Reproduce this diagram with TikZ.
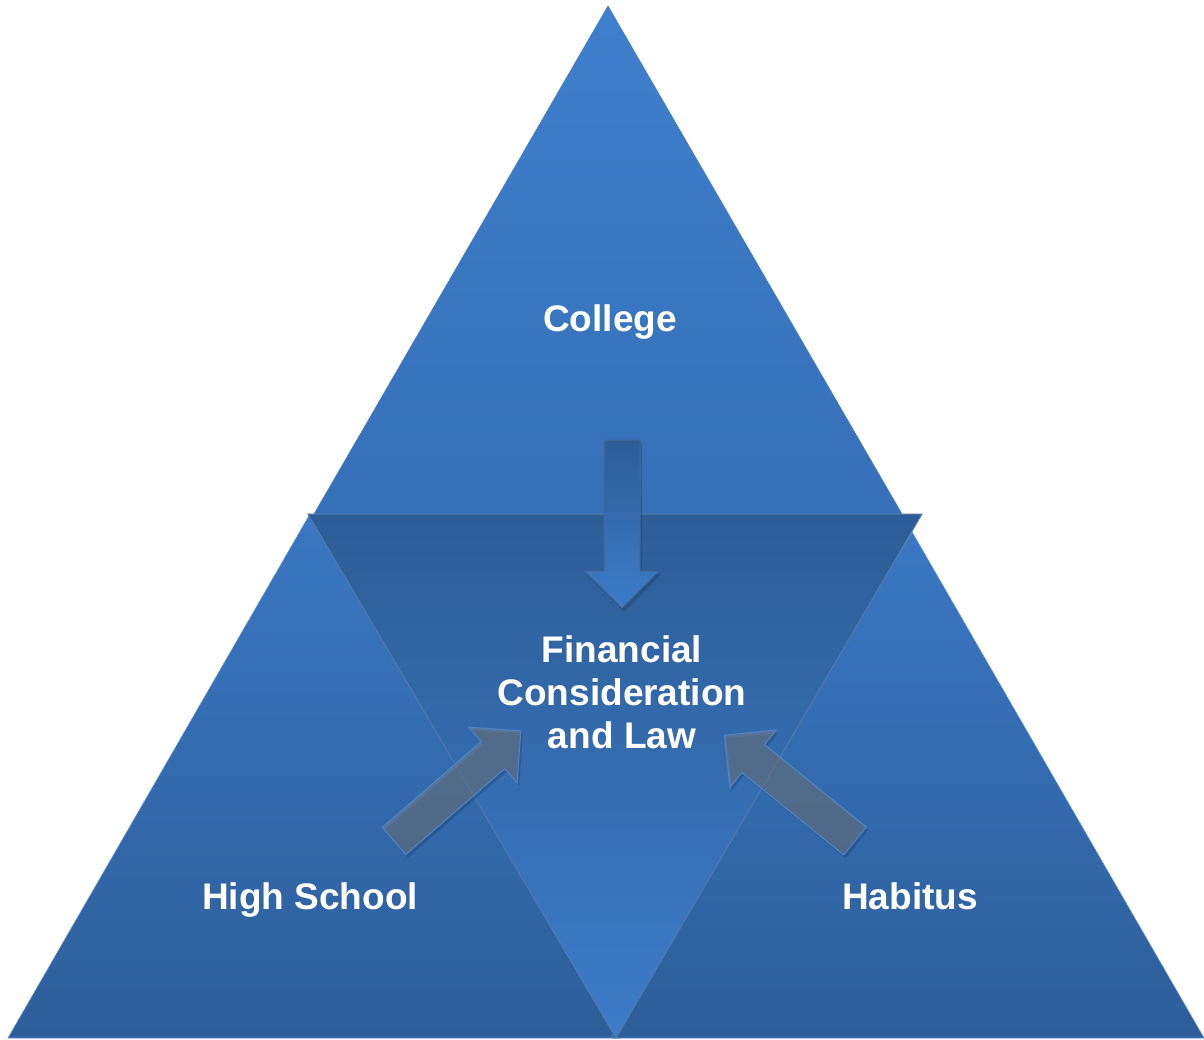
\documentclass[tikz,border=0pt]{standalone}
\usepackage{fontspec}
\setmainfont{Liberation Sans}
\definecolor{topA}{HTML}{3E7FCD}
\definecolor{topB}{HTML}{3670B7}
\definecolor{sideA}{HTML}{3A77C2}
\definecolor{sideB}{HTML}{2D5E9A}
\definecolor{invA}{HTML}{2D5D97}
\definecolor{invB}{HTML}{3D7CC9}
\definecolor{edgeline}{HTML}{5479A8}
\definecolor{arrowedge}{HTML}{4D84C8}
\definecolor{arrowfill}{HTML}{808080}
\begin{document}
\begin{tikzpicture}[x=1pt,y=-1pt,
  lbl/.style={text=white,font=\fontsize{37}{43}\selectfont\bfseries,align=center,inner sep=0pt},
  sidebox/.style={top color=sideA,bottom color=sideB},
  sidearrow/.style={fill=arrowfill,fill opacity=0.45,draw=arrowedge,line width=1pt,line join=miter},
  arrowshadow/.style={fill=black,opacity=0.15}]
\useasboundingbox (0,0) rectangle (1204,1040);
\newcommand\blockarrowpath{(0,-18) -- (131,-18) -- (131,-37) -- (168,0) -- (131,37) -- (131,18) -- (0,18) -- cycle}
% triangles
\path[top color=topA,bottom color=topB,draw=topB!90!white,line width=0.6pt] (608,6) -- (902,514) -- (314,514) -- cycle;
\path[sidebox,draw=sideA!80!white,line width=0.6pt] (310,514) -- (621,1038) -- (8,1038) -- cycle;
\path[sidebox,draw=sideA!80!white,line width=0.6pt] (912,532) -- (1204,1038) -- (611,1038) -- cycle;
\path[top color=invA,bottom color=invB,draw=edgeline,line width=1pt] (308,514) -- (922,514) -- (616,1038) -- cycle;
% down arrow
\fill[arrowshadow] (606,443) -- (642,443) -- (642,574) -- (661,574) -- (624,612) -- (587,574) -- (606,574) -- cycle;
\path[top color=invA,bottom color=invB,draw=edgeline!85!black,line width=1pt] (604,440) -- (640,440) -- (640,571) -- (659,571) -- (622,608) -- (585,571) -- (604,571) -- cycle;
% side arrows
\begin{scope}[shift={(396,844)},rotate=41]
  \fill[arrowshadow] \blockarrowpath;
\end{scope}
\begin{scope}[shift={(394,841)},rotate=41]
  \path[sidearrow] \blockarrowpath;
\end{scope}
\begin{scope}[shift={(857,844)},rotate=141]
  \fill[arrowshadow] \blockarrowpath;
\end{scope}
\begin{scope}[shift={(855,841)},rotate=141]
  \path[sidearrow] \blockarrowpath;
\end{scope}
% labels
\node[lbl,anchor=base] (college) at (610,332) {College};
\node[lbl] (fin) at (622,692) {Financial\\Consideration\\and Law};
\node[lbl,anchor=base] (hs) at (310,909) {High School};
\node[lbl,anchor=base] (hab) at (910,909) {Habitus};
\end{tikzpicture}
\end{document}
